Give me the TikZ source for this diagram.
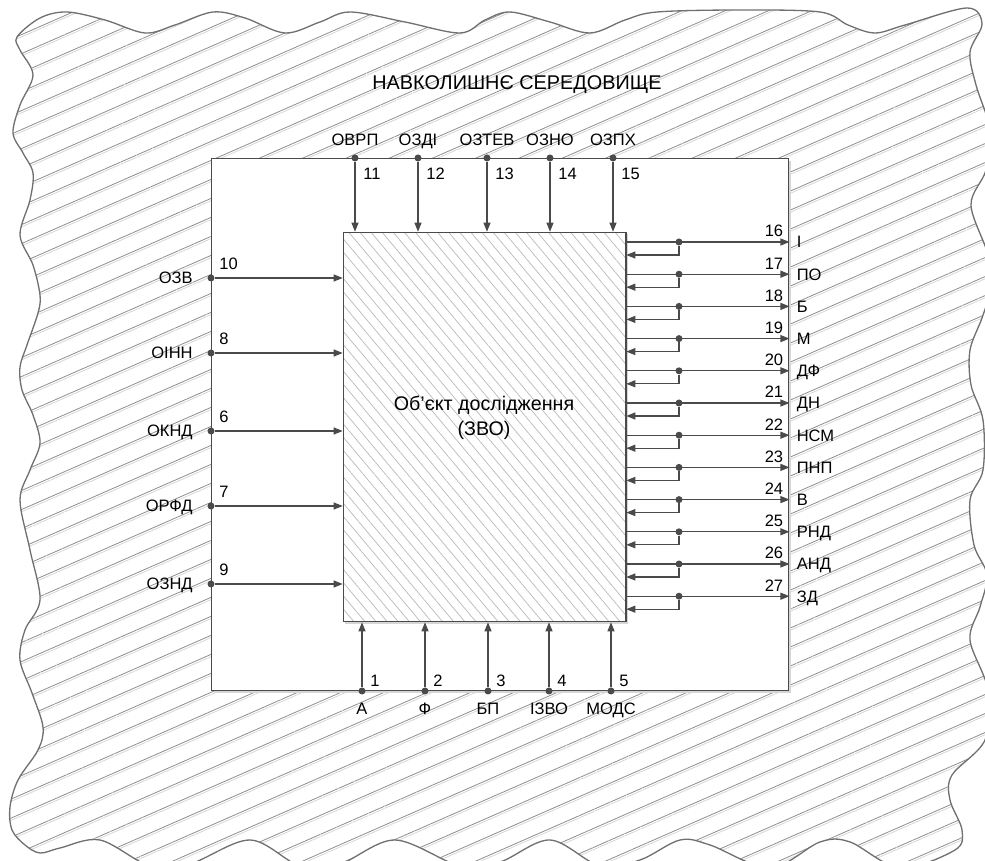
\documentclass[tikz,border=0pt]{standalone}
\usepackage{fontspec}
\setmainfont{Liberation Sans}
\usetikzlibrary{positioning,arrows.meta,calc,patterns.meta,shadows}

\definecolor{linegray}{HTML}{4A4A4A}
\definecolor{edgegray}{HTML}{707070}
\definecolor{hatchgray}{HTML}{8C8C8C}
\definecolor{shadegray}{HTML}{D6D6D6}

\begin{document}
\begin{tikzpicture}[x=0.02cm,y=-0.02cm,
    envhatch/.style={draw=edgegray,line width=0.75pt,
      preaction={pattern={Lines[angle=23.7,distance=0.348cm,line width=0.45pt,yshift=-0.045cm]},pattern color=shadegray},
      pattern={Lines[angle=23.7,distance=0.348cm,line width=0.45pt]},pattern color=hatchgray},
    sysbox/.style={draw=linegray,fill=white,line width=0.6pt,minimum width=11.56cm,minimum height=10.66cm,inner sep=0pt,
      drop shadow={shadow xshift=0.05cm,shadow yshift=-0.05cm,fill=shadegray,opacity=1}},
    objbox/.style={draw=linegray,line width=0.6pt,minimum width=5.66cm,minimum height=7.8cm,inner sep=0pt,
      drop shadow={shadow xshift=0.04cm,shadow yshift=-0.04cm,fill=shadegray,opacity=1},preaction={fill=white},
      pattern={Lines[angle=-50,distance=0.17cm,line width=0.4pt]},pattern color=hatchgray!60},
    dot/.style={circle,fill=linegray,inner sep=0pt,minimum size=0.14cm},
    flow/.style={draw=linegray,line width=0.6pt,-{Triangle[length=0.18cm,width=0.14cm]}},
    lbl/.style={font=\fontsize{9.4}{10}\selectfont,inner sep=0pt},
    title/.style={font=\fontsize{11.3}{12}\selectfont,inner sep=0pt},
    objtxt/.style={font=\fontsize{11.2}{14}\selectfont,align=center,inner sep=0pt}
  ]
  \useasboundingbox (0,0) rectangle (985,861);
  \clip (0,0) rectangle (985,861);
  \path[envhatch] plot[smooth cycle,tension=0.55] coordinates {
    (17,37) (40,18) (67,12) (105,20) (145,33) (175,25) (213,12) (245,18) (285,33) (320,22) (350,12)
    (405,22) (460,33) (485,20) (510,12) (550,22) (590,33) (625,20) (657,12) (740,10) (820,12)
    (848,25) (875,33) (905,25) (967,8)
    (982,24) (970,52) (976,85) (990,130) (986,170) (971,205) (988,255) (990,290) (982,318) (970,350)
    (971,385) (983,420) (983,470) (970,500) (974,545) (987,575) (980,607) (970,640) (988,690)
    (985,740) (952,775) (950,800) (962,830) (955,850)
    (900,868) (850,842) (820,842) (770,868) (710,845) (680,840) (640,860) (600,866) (550,840)
    (500,862) (460,866) (395,840) (340,864) (300,866) (250,840) (190,864) (150,866) (100,840)
    (60,848) (40,853) (25,845) (12,830) (10,807) (18,780) (38,750) (43,727) (32,693) (20,660)
    (25,630) (40,600) (30,550) (20,500) (30,470) (40,443) (33,415) (22,390) (20,367) (27,345)
    (38,313) (40,295) (33,265) (20,235) (30,200) (33,173) (23,153) (13,133) (20,105) (33,75) (20,50)};

  \node[title,anchor=base] (env) at (517,90) {НАВКОЛИШНЄ СЕРЕДОВИЩЕ};
  \node[sysbox] (sys) at (500,424.5) {};
  \node[objbox] (obj) at (484.5,427) {};
  \node[objtxt] (objlbl) at (484,418) {Об’єкт дослідження\\(ЗВО)};

  \foreach \x/\t/\n in {355/ОВРП/11,418/ОЗДІ/12,487/ОЗТЕВ/13,550/ОЗНО/14,613/ОЗПХ/15} {
    \node[dot] (in\n) at (\x,158) {};
    \node[lbl,anchor=base] (name\n) at ([yshift=0.24cm]in\n) {\t};
    \node[lbl,anchor=base west] (num\n) at ([xshift=0.16cm,yshift=-0.44cm]in\n) {\n};
    \draw[flow] (in\n) -- (in\n |- obj.north);
  }
  \foreach \y/\t/\n in {278/ОЗВ/10,353/ОІНН/8,431/ОКНД/6,506/ОРФД/7,584/ОЗНД/9} {
    \node[dot] (in\n) at (211,\y) {};
    \node[lbl,anchor=base east] (name\n) at ([xshift=-0.36cm,yshift=-0.12cm]in\n) {\t};
    \node[lbl,anchor=base west] (num\n) at ([xshift=0.16cm,yshift=0.17cm]in\n) {\n};
    \draw[flow] (in\n) -- (in\n -| obj.west);
  }
  \foreach \x/\t/\n in {362/А/1,425/Ф/2,488/БП/3,549/ІЗВО/4,611/МОДС/5} {
    \node[dot] (in\n) at (\x,691) {};
    \node[lbl,anchor=base] (name\n) at ([yshift=-0.48cm]in\n) {\t};
    \node[lbl,anchor=base west] (num\n) at ([xshift=0.16cm,yshift=0.08cm]in\n) {\n};
    \draw[flow] (in\n) -- (in\n |- obj.south);
  }
  \foreach \n/\t [count=\k from 0] in {16/І,17/ПО,18/Б,19/М,20/ДФ,21/ДН,22/НСМ,23/ПНП,24/В,25/РНД,26/АНД,27/ЗД} {
    \pgfmathsetmacro\y{242+32.2*\k}
    \node[dot] (out\n) at (679,\y) {};
    \coordinate (end\n) at (sys.east |- out\n);
    \node[lbl,anchor=base east] (num\n) at ([xshift=-0.12cm,yshift=0.1cm]end\n) {\n};
    \node[lbl,anchor=base west] (name\n) at ([xshift=0.14cm,yshift=-0.12cm]end\n) {\t};
    \draw[flow] (obj.east |- out\n) -- (end\n);
    \draw[flow] (out\n) |- ($(obj.east |- out\n)+(0,13)$);
  }
\end{tikzpicture}
\end{document}
